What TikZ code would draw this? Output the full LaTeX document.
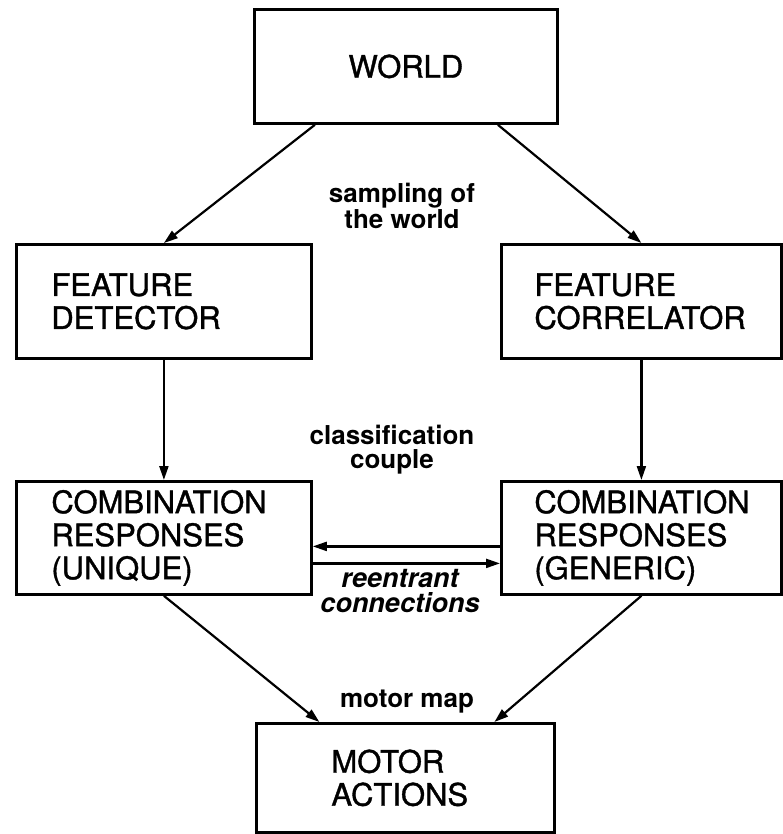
\documentclass[tikz,border=0pt]{standalone}
\usepackage{fontspec}
\setmainfont{TeX Gyre Heros}
\newfontfamily\boxfont[FakeBold=1.2]{TeX Gyre Heros}
\usetikzlibrary{arrows.meta}
\begin{document}
\begin{tikzpicture}[x=1pt,y=-1pt,
  box/.style={draw, line width=2.8pt, anchor=north west, inner sep=0pt,
    font=\boxfont\fontsize{31}{33}\selectfont, align=left},
  lbl/.style={font=\bfseries\fontsize{26}{24}\selectfont, align=center, inner sep=0pt},
  arr/.style={line width=2.2pt, -{Triangle[length=14pt,width=9pt]}},
]
\useasboundingbox (0,0) rectangle (783,834);

\node[box, minimum width=303pt, minimum height=114pt, text width=303pt, align=center] (world) at (253,8) {WORLD};
\node[box, minimum width=295pt, minimum height=114pt, text width=225pt] (fd) at (15,243) {FEATURE\\DETECTOR};
\node[box, minimum width=280pt, minimum height=114pt, text width=214pt] (fc) at (500,243) {FEATURE\\CORRELATOR};
\node[box, minimum width=295pt, minimum height=113pt, text width=225pt] (cu) at (15,480) {COMBINATION\\RESPONSES\\(UNIQUE)};
\node[box, minimum width=280pt, minimum height=113pt, text width=214pt] (cg) at (500,480) {COMBINATION\\RESPONSES\\(GENERIC)};
\node[box, minimum width=298pt, minimum height=109pt, text width=148pt] (ma) at (255,722) {MOTOR\\ACTIONS};

\draw[arr] ([xshift=-91pt]world.south) -- (fd.north);
\draw[arr] ([xshift=92pt]world.south) -- (fc.north);
\draw[arr] (fd.south) -- (cu.north);
\draw[arr] (fc.south) -- (cg.north);
\draw[arr] (cu.south) -- ([xshift=-86pt]ma.north);
\draw[arr] (cg.south) -- ([xshift=89pt]ma.north);
\draw[arr] ([yshift=-8.5pt]cg.west) -- ([yshift=-8.5pt]cu.east);
\draw[arr] ([yshift=-25.5pt]cu.west -| cu.east) -- ([yshift=-25.5pt]cg.west);

\node[lbl, font=\bfseries\fontsize{26}{26}\selectfont] (samp) at (402,206) {sampling of\\the world};
\node[lbl] (class) at (392,450) {classification\\couple};
\node[lbl, anchor=base] (motor) at (407,707) {motor map};
\node[lbl, font=\bfseries\itshape\fontsize{27}{25}\selectfont] (reen) at (400,591) {reentrant\\connections};
\end{tikzpicture}
\end{document}
